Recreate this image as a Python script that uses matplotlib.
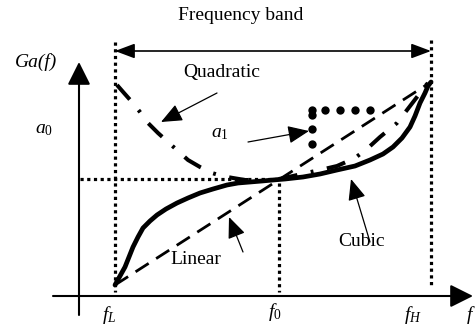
import matplotlib
matplotlib.use('Agg')
import matplotlib.pyplot as plt
from matplotlib.patches import FancyArrowPatch

plt.rcParams['font.family'] = 'Liberation Serif'
plt.rcParams['mathtext.fontset'] = 'custom'
plt.rcParams['mathtext.rm'] = 'Liberation Serif'
plt.rcParams['mathtext.it'] = 'Liberation Serif:italic'

# sketch coordinates (x to the right, y downward like the drawing)
f_L, f_0, f_H = 115, 279, 431
g_low, g_mid, g_high = 285, 180, 82

linear_f = [f_L, f_H]
linear_g = [g_low, g_high]

cubic_f = [115, 120, 125, 129, 133, 138, 143, 150, 157, 166, 177, 188, 200, 213,
           227, 238, 250, 262, 273, 285, 303, 320, 337, 355, 370, 383, 393, 402,
           410, 415, 420, 425, 428, 431]
cubic_g = [285, 276, 267, 257, 247, 237, 228, 221, 215, 209, 203, 198, 193, 189,
           185, 183, 182, 181, 180, 179, 177, 174, 170, 166, 160, 154, 147, 138,
           127, 116, 103, 93, 86, 82]

quad_f = [117, 124, 132, 140, 148, 158, 168, 178, 188, 200, 212, 222, 233, 245,
          257, 268, 279, 293, 306, 320, 337, 355, 368, 380, 397, 407, 417, 427, 431]
quad_g = [85, 93, 102, 112, 123, 133, 142, 151, 160, 167, 173, 176, 178, 180,
          180, 180, 179, 176, 173, 170, 166, 158, 148, 137, 123, 110, 97, 84, 82]

a1_f = [312, 312, 312, 312, 325, 340, 355, 370]
a1_g = [110, 115, 129, 144, 110, 110, 110, 110]

fig = plt.figure(figsize=(4.77, 3.29), dpi=100)
ax = fig.add_axes([0, 0, 1, 1])
ax.set_xlim(0, 477)
ax.set_ylim(329, 0)
ax.axis('off')


def arrow(p0, p1, style, lw, hl, hw):
    a = FancyArrowPatch(p0, p1, arrowstyle=f'{style},head_length={hl},head_width={hw}',
                        lw=lw, color='black', shrinkA=0, shrinkB=0, mutation_scale=1)
    ax.add_patch(a)


# axes
arrow((79, 315), (79, 62), '-|>', 1.5, 14, 7)
arrow((53, 296), (473, 296), '-|>', 1.5, 14, 7)

# dotted guide lines
dot = dict(color='black', lw=2.3, ls=(0, (1, 1.1)))
ax.plot([f_L, f_L], [42, 292], **dot)
ax.plot([f_H, f_H], [40, 288], **dot)
ax.plot([f_0, f_0], [183, 292], **dot)
ax.plot([80, f_0], [179, 179], **dot)

# frequency band arrow
arrow((f_L, 51), (f_H, 51), '<|-|>', 1.2, 12, 4.5)

# curves
ax.plot(linear_f, linear_g, color='black', lw=2.0, ls=(0, (5.6, 3.2)))
ax.plot(quad_f, quad_g, color='black', lw=2.9, ls=(0, (4.8, 3.4, 0.7, 3.4)))
ax.plot(cubic_f, cubic_g, color='black', lw=3.4, solid_joinstyle='round',
        solid_capstyle='round')
ax.plot(a1_f, a1_g, 'o', color='black', ms=6, mew=0)

# annotation arrows
arrow((217, 93), (161, 122), '-|>', 0.9, 13, 5.5)
arrow((248, 142), (309, 131), '-|>', 0.9, 13, 5.5)
arrow((370, 242), (351, 179), '-|>', 0.9, 13, 5.5)
arrow((243, 252), (229, 217), '-|>', 0.9, 13, 5.5)

# texts
fs = 14
ax.text(241, 16, 'Frequency band', fontsize=fs, ha='center', va='center')
ax.text(36, 62, 'Ga(f)', fontsize=fs, ha='center', va='center', style='italic')
ax.text(44, 130, r'$a_0$', fontsize=fs, ha='center', va='center')
ax.text(220, 133, r'$a_1$', fontsize=fs, ha='center', va='center')
ax.text(222, 72, 'Quadratic', fontsize=fs, ha='center', va='center')
ax.text(196, 260, 'Linear', fontsize=fs, ha='center', va='center')
ax.text(362, 242, 'Cubic', fontsize=fs, ha='center', va='center')
ax.text(109, 315, r'$f_L$', fontsize=fs, ha='center', va='center')
ax.text(275, 312, r'$f_\mathit{0}$', fontsize=fs, ha='center', va='center')
ax.text(413, 315, r'$f_H$', fontsize=fs, ha='center', va='center')
ax.text(476, 315, r'$f$', fontsize=fs, ha='right', va='center')

fig.savefig('out.png', dpi=100)
